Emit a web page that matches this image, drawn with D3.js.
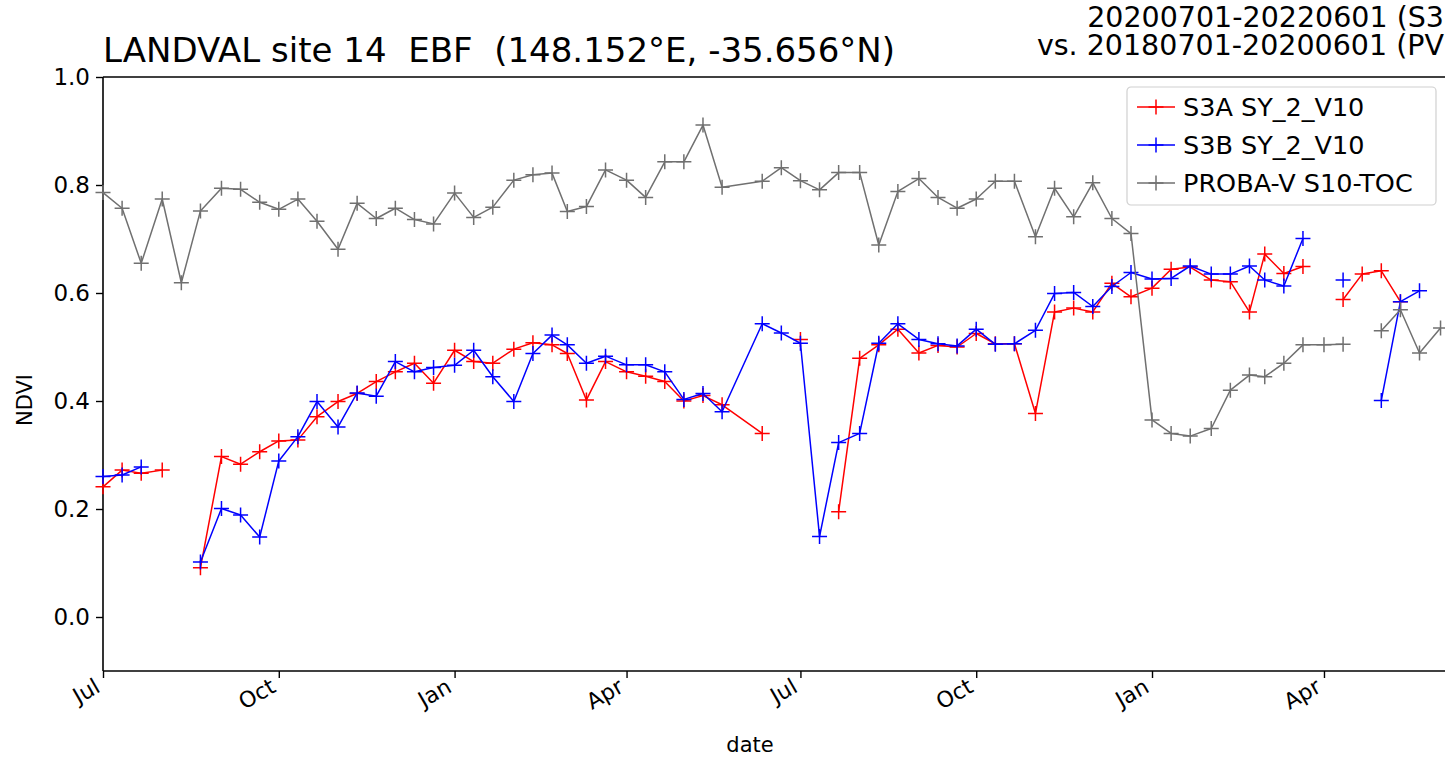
<!DOCTYPE html>
<html>
<head>
<meta charset="utf-8">
<script src="https://cdn.jsdelivr.net/npm/d3@7"></script>
<style>
  html, body { margin: 0; padding: 0; background: #fff; }
  svg { display: block; font-family: "DejaVu Sans", sans-serif; }
</style>
</head>
<body>
<svg id="chart" width="1445" height="761"></svg>
<script>
// ---- data ----
const dates = [
  "2020-07-01","2020-07-11","2020-07-21","2020-08-01","2020-08-11","2020-08-21","2020-09-01","2020-09-11","2020-09-21",
  "2020-10-01","2020-10-11","2020-10-21","2020-11-01","2020-11-11","2020-11-21","2020-12-01","2020-12-11","2020-12-21",
  "2021-01-01","2021-01-11","2021-01-21","2021-02-01","2021-02-11","2021-02-21","2021-03-01","2021-03-11","2021-03-21",
  "2021-04-01","2021-04-11","2021-04-21","2021-05-01","2021-05-11","2021-05-21","2021-06-11","2021-06-21",
  "2021-07-01","2021-07-11","2021-07-21","2021-08-01","2021-08-11","2021-08-21","2021-09-01","2021-09-11","2021-09-21",
  "2021-10-01","2021-10-11","2021-10-21","2021-11-01","2021-11-11","2021-11-21","2021-12-01","2021-12-11","2021-12-21",
  "2022-01-01","2022-01-11","2022-01-21","2022-02-01","2022-02-11","2022-02-21","2022-03-01","2022-03-11","2022-03-21",
  "2022-04-01","2022-04-11","2022-04-21","2022-05-01","2022-05-11","2022-05-21","2022-06-01"
];
const s3a = [
  0.241,0.272,0.266,0.272,null,0.091,0.297,0.283,0.306,0.326,0.328,0.371,0.399,0.414,0.436,0.454,0.470,0.433,
  0.494,0.473,0.470,0.496,0.508,0.504,0.488,0.402,0.473,0.454,0.446,0.436,0.400,0.410,0.393,
  0.340,null,0.514,null,0.195,0.479,0.504,0.533,0.489,0.503,0.500,0.525,0.506,0.506,0.377,0.565,0.572,0.565,0.618,0.593,
  0.609,0.644,0.648,0.624,0.621,0.565,0.672,0.636,0.649,null,0.588,0.635,0.641,0.584,null,null
];
const s3b = [
  0.260,0.263,0.278,null,null,0.102,0.201,0.189,0.148,0.289,0.334,0.399,0.352,0.415,0.409,0.473,0.454,0.462,
  0.466,0.494,0.445,0.399,0.488,0.522,0.504,0.470,0.483,0.467,0.467,0.454,0.403,0.414,0.380,
  0.543,0.526,0.507,0.149,0.323,0.340,0.507,0.543,0.514,0.506,0.502,0.533,0.505,0.506,0.531,0.599,0.601,0.575,0.612,0.638,
  0.626,0.627,0.650,0.635,0.635,0.650,0.624,0.613,0.701,null,0.624,null,0.401,0.584,0.604,null
];
const pv = [
  0.786,0.757,0.655,0.774,0.619,0.752,0.794,0.792,0.768,0.755,0.774,0.733,0.681,0.766,0.738,0.757,0.736,0.728,
  0.785,0.740,0.759,0.809,0.819,0.822,0.751,0.760,0.828,0.809,0.777,0.843,0.843,0.911,0.796,
  0.807,0.832,0.808,0.791,0.823,0.823,0.689,0.788,0.812,0.777,0.757,0.774,0.807,0.807,0.704,0.794,0.741,0.804,0.738,0.710,
  0.365,0.340,0.335,0.349,0.420,0.448,0.445,0.470,0.504,0.504,0.505,null,0.530,0.569,0.489,0.535
];
const seriesNames = ["S3A SY_2_V10", "S3B SY_2_V10", "PROBA-V S10-TOC"];
const seriesColors = ["#ff0000", "#0000ff", "#707070"];
const yTicks = [0.0, 0.2, 0.4, 0.6, 0.8, 1.0];
const xDomain = ["2020-07-01", "2022-06-07"];
const yDomain = [-0.1, 1.0];
const titleLeft = "LANDVAL site 14  EBF  (148.152°E, -35.656°N)";
const titleRight = ["20200701-20220601 (S3", "vs. 20180701-20200601 (PV"];
const xLabel = "date";
const yLabel = "NDVI";

// ---- layout ----
const L = 103, R = 1452, T = 77, B = 671;
const parse = d3.utcParse("%Y-%m-%d");
const x = d3.scaleUtc().domain(xDomain.map(parse)).range([L, R]);
const y = d3.scaleLinear().domain(yDomain).range([B, T]);
const svg = d3.select("#chart");
svg.append("rect").attr("width", 1445).attr("height", 761).attr("fill", "#fff");

const yTickFont = 23, xTickFont = 22, labelFont = 21;

// y axis
const yAxis = d3.axisLeft(y).tickValues(yTicks).tickFormat(d3.format(".1f")).tickSize(7).tickPadding(6);
const gy = svg.append("g").attr("transform", `translate(${L},0)`).call(yAxis);
gy.select(".domain").remove();
gy.selectAll(".tick line").attr("stroke", "#000").attr("stroke-width", 1.4);
gy.selectAll(".tick text").attr("font-size", yTickFont).attr("fill", "#000").attr("font-family", "DejaVu Sans");

// x axis
const xTicks = d3.utcMonth.range(parse("2020-07-01"), parse("2022-06-08"), 3);
const xAxis = d3.axisBottom(x).tickValues(xTicks).tickFormat(d3.utcFormat("%b")).tickSize(7).tickPadding(0);
const gx = svg.append("g").attr("transform", `translate(0,${B})`).call(xAxis);
gx.select(".domain").remove();
gx.selectAll(".tick line").attr("stroke", "#000").attr("stroke-width", 1.4);
gx.selectAll(".tick text")
  .attr("font-size", xTickFont).attr("fill", "#000").attr("font-family", "DejaVu Sans")
  .attr("text-anchor", "end")
  .attr("dy", null)
  .attr("y", null)
  .attr("transform", `translate(-2,20) rotate(-30)`);

// spines
const spine = svg.append("g").attr("stroke", "#000").attr("stroke-width", 1.6).attr("fill", "none");
spine.append("line").attr("x1", L).attr("x2", L).attr("y1", T).attr("y2", B);
spine.append("line").attr("x1", L).attr("x2", R).attr("y1", B).attr("y2", B);
spine.append("line").attr("x1", L).attr("x2", R).attr("y1", T).attr("y2", T);
spine.append("line").attr("x1", R).attr("x2", R).attr("y1", T).attr("y2", B);

// series
const allSeries = [s3a, s3b, pv];
const line = d3.line()
  .defined(d => d.v != null)
  .x(d => x(d.d)).y(d => y(d.v));
const mk = 7.5;
allSeries.forEach((vals, si) => {
  const pts = dates.map((ds, i) => ({ d: parse(ds), v: vals[i] }));
  const g = svg.append("g");
  g.append("path").datum(pts).attr("d", line)
    .attr("fill", "none").attr("stroke", seriesColors[si]).attr("stroke-width", 1.5)
    .attr("stroke-linejoin", "round");
  g.selectAll("path.m").data(pts.filter(p => p.v != null)).join("path")
    .attr("class", "m")
    .attr("d", p => { const cx = x(p.d), cy = y(p.v);
      return `M${cx - mk},${cy}H${cx + mk}M${cx},${cy - mk}V${cy + mk}`; })
    .attr("stroke", seriesColors[si]).attr("stroke-width", 1.5);
});

// titles
svg.append("text").attr("x", L).attr("y", 62)
  .attr("font-size", 34).attr("fill", "#000").style("white-space", "pre")
  .text(titleLeft);
const tr = svg.append("text").attr("text-anchor", "end").attr("font-size", 28.5).attr("fill", "#000");
titleRight.forEach((t, i) => {
  tr.append("tspan").attr("x", 1444).attr("y", 27 + i * 28).text(t);
});

// axis labels
svg.append("text").attr("x", 750).attr("y", 752).attr("text-anchor", "middle")
  .attr("font-size", labelFont).attr("fill", "#000").text(xLabel);
svg.append("text").attr("transform", `translate(32,400) rotate(-90)`)
  .attr("text-anchor", "middle").attr("font-size", labelFont).attr("fill", "#000").text(yLabel);

// legend
const lg = svg.append("g").attr("transform", "translate(1127,87)");
lg.append("rect").attr("width", 309).attr("height", 118).attr("rx", 4)
  .attr("fill", "#fff").attr("fill-opacity", 0.8).attr("stroke", "#d0d0d0").attr("stroke-width", 1.2);
seriesNames.forEach((name, i) => {
  const cy = 20 + i * 38;
  lg.append("line").attr("x1", 10).attr("x2", 48).attr("y1", cy).attr("y2", cy)
    .attr("stroke", seriesColors[i]).attr("stroke-width", 1.5);
  lg.append("path").attr("d", `M${29 - mk},${cy}H${29 + mk}M29,${cy - mk}V${cy + mk}`)
    .attr("stroke", seriesColors[i]).attr("stroke-width", 1.5);
  lg.append("text").attr("x", 56).attr("y", cy).attr("dy", "0.36em")
    .attr("font-size", 25.5).attr("fill", "#000").text(name);
});
</script>
</body>
</html>
